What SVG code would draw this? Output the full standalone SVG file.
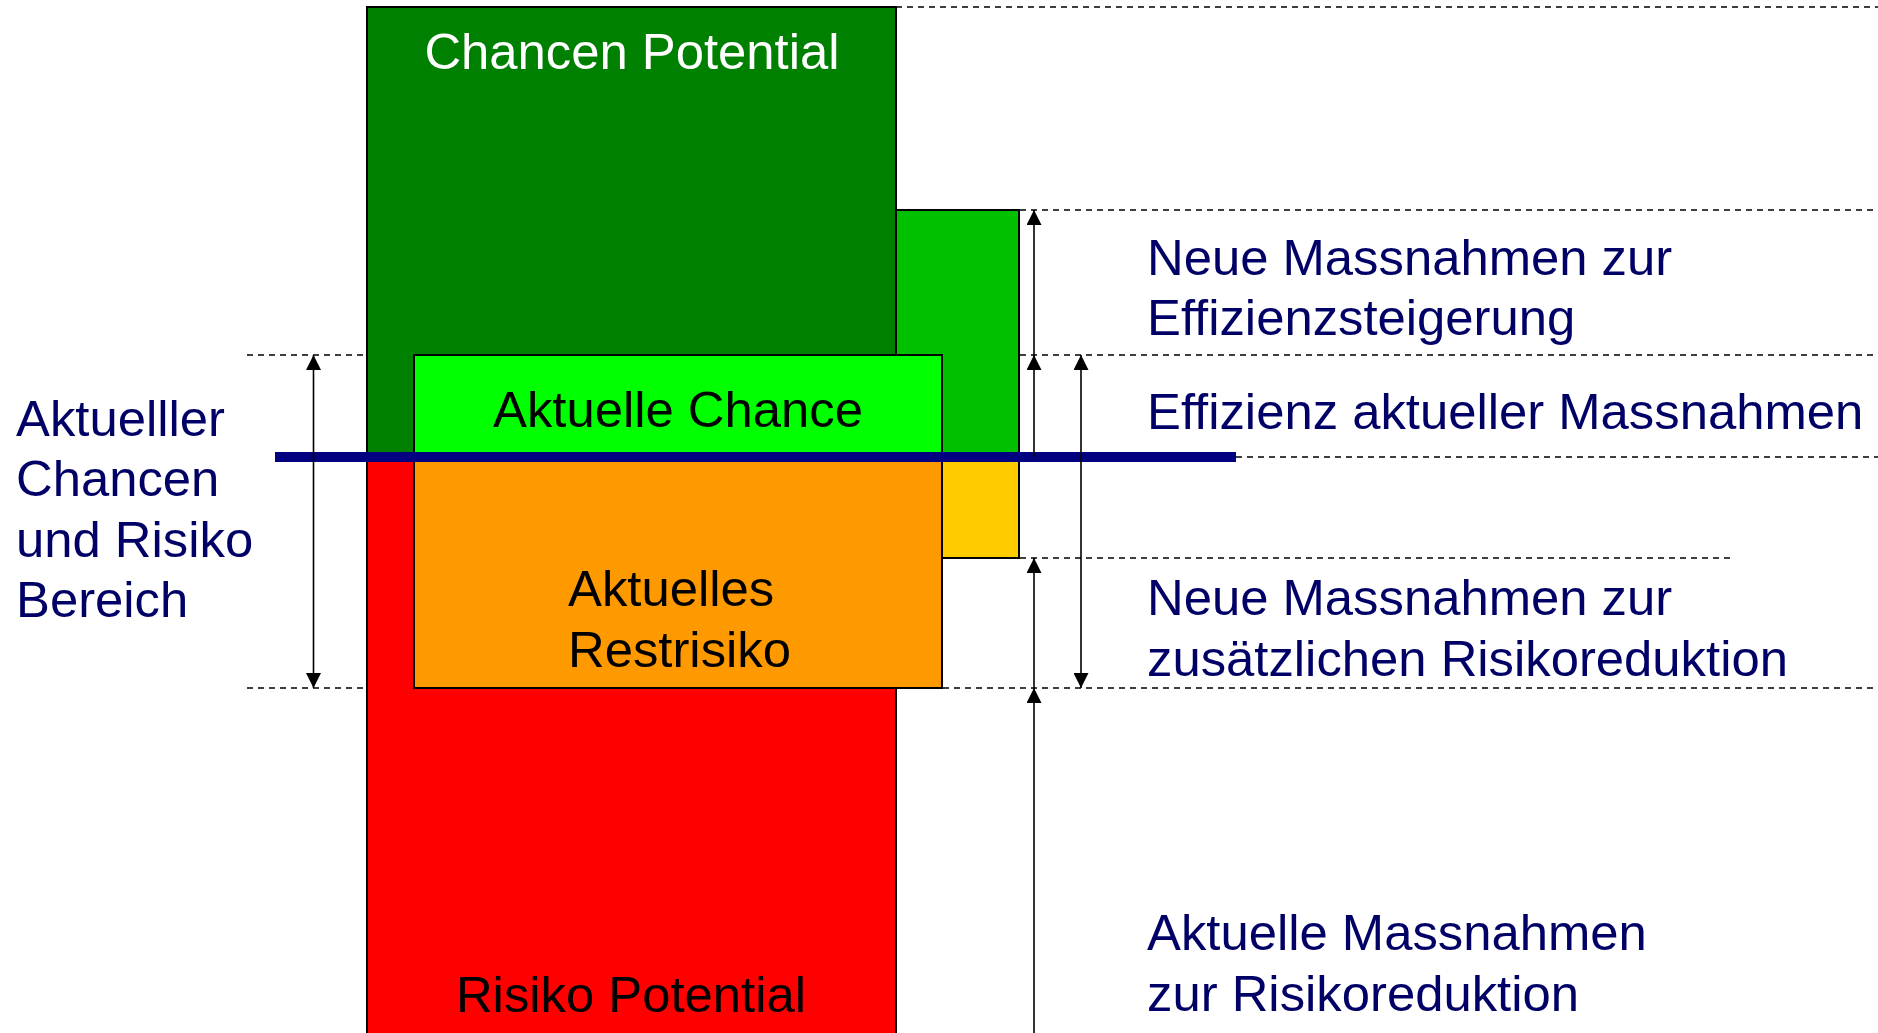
<svg xmlns="http://www.w3.org/2000/svg" width="1878" height="1033" viewBox="0 0 1878 1033">
<style>
.box{stroke:#000;stroke-width:2}
.dash{stroke:#000;stroke-width:1.7;stroke-dasharray:6,5;fill:none}
.arr{stroke:#000;stroke-width:1.6;fill:none}
.t{font-family:"Liberation Sans",Arial,sans-serif;font-size:50.8px}
.navy{fill:#000066}
</style>
<defs>
<marker id="ah" viewBox="0 0 15 15" refX="15" refY="7.5" markerWidth="15" markerHeight="15" markerUnits="userSpaceOnUse" orient="auto-start-reverse">
<path d="M0,0 L15,7.5 L0,15 z" fill="#000"/>
</marker>
</defs>
<rect width="1878" height="1033" fill="#fff"/>
<g id="chancen-potential">
<rect class="box" x="367" y="7" width="529" height="450" fill="#008000" stroke-width="1.6"/>
<text class="t" x="632" y="69" text-anchor="middle" fill="#fff">Chancen Potential</text>
</g>
<g id="risiko-potential">
<rect class="box" x="367" y="457" width="529" height="590" fill="#ff0000" stroke-width="1.6"/>
<text class="t" x="631" y="1012" text-anchor="middle" fill="#000">Risiko Potential</text>
</g>
<g id="neue-effizienz">
<rect class="box" x="896" y="210" width="123" height="247" fill="#00c000"/>
</g>
<g id="neue-risikoreduktion">
<rect class="box" x="896" y="457" width="123" height="101" fill="#ffcc00"/>
</g>
<g id="aktuelle-chance">
<rect class="box" x="414" y="355" width="528" height="102" fill="#00ff00"/>
<text class="t" x="678" y="427" text-anchor="middle" fill="#000">Aktuelle Chance</text>
</g>
<g id="aktuelles-restrisiko">
<rect class="box" x="414" y="457" width="528" height="231" fill="#ff9900"/>
<text class="t" fill="#000"><tspan x="568" y="606">Aktuelles</tspan><tspan x="568" y="666.5">Restrisiko</tspan></text>
</g>
<g id="connectors">
<line x1="275" y1="457" x2="1236" y2="457" stroke="#000080" stroke-width="10"/>
<line class="dash" x1="896" y1="7" x2="1878" y2="7"/>
<line class="dash" x1="1020" y1="210" x2="1878" y2="210"/>
<line class="dash" x1="247" y1="355" x2="367" y2="355"/>
<line class="dash" x1="1020" y1="355" x2="1878" y2="355"/>
<line class="dash" x1="1236" y1="457" x2="1878" y2="457"/>
<line class="dash" x1="1020" y1="558" x2="1731" y2="558"/>
<line class="dash" x1="247" y1="688" x2="367" y2="688"/>
<line class="dash" x1="943" y1="688" x2="1878" y2="688"/>
<line class="arr" x1="313.5" y1="355" x2="313.5" y2="688" marker-start="url(#ah)" marker-end="url(#ah)"/>
<line class="arr" x1="1034" y1="457" x2="1034" y2="355" marker-end="url(#ah)"/>
<line class="arr" x1="1034" y1="355" x2="1034" y2="210" marker-end="url(#ah)"/>
<line class="arr" x1="1081" y1="355" x2="1081" y2="688" marker-start="url(#ah)" marker-end="url(#ah)"/>
<line class="arr" x1="1034" y1="688" x2="1034" y2="558" marker-end="url(#ah)"/>
<line class="arr" x1="1034" y1="1040" x2="1034" y2="688" marker-end="url(#ah)"/>
</g>
<g id="label-bereich">
<text class="t navy"><tspan x="16" y="436">Aktuelller</tspan><tspan x="16" y="496">Chancen</tspan><tspan x="16" y="556.5">und Risiko</tspan><tspan x="16" y="617">Bereich</tspan></text>
</g>
<g id="label-neue-effizienz">
<text class="t navy"><tspan x="1147" y="275">Neue Massnahmen zur</tspan><tspan x="1147" y="335">Effizienzsteigerung</tspan></text>
</g>
<g id="label-effizienz-aktuell">
<text class="t navy" x="1147" y="429">Effizienz aktueller Massnahmen</text>
</g>
<g id="label-neue-risiko">
<text class="t navy"><tspan x="1147" y="615">Neue Massnahmen zur</tspan><tspan x="1147" y="676">zusätzlichen Risikoreduktion</tspan></text>
</g>
<g id="label-aktuelle-risiko">
<text class="t navy"><tspan x="1147" y="950">Aktuelle Massnahmen</tspan><tspan x="1147" y="1011">zur Risikoreduktion</tspan></text>
</g>
</svg>
